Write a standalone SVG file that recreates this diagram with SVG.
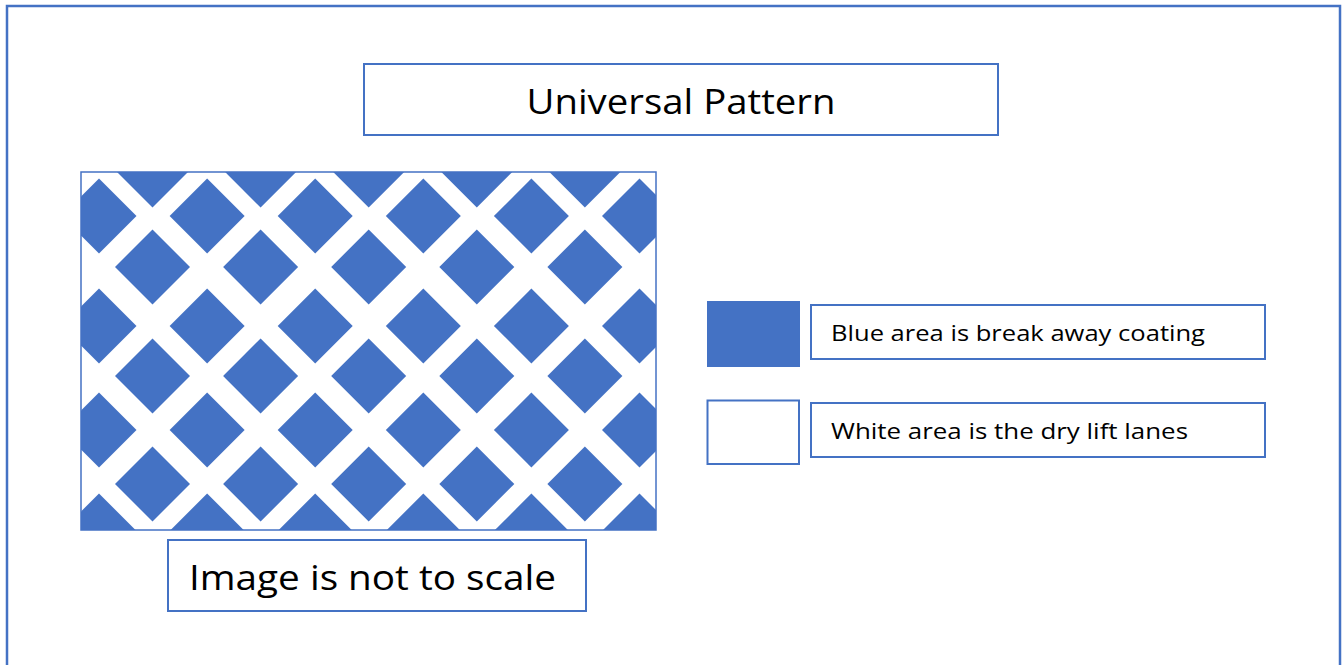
<svg xmlns="http://www.w3.org/2000/svg" xmlns:xlink="http://www.w3.org/1999/xlink" width="1343" height="665" viewBox="0 0 1343 665">
<style>
.box{fill:#ffffff;stroke:#4472c4;stroke-width:2}
.txt{font-family:"Open Sans","Noto Sans","Liberation Sans",sans-serif;fill:#000000}
.dia{fill:#4472c4}
</style>
<defs>
<polygon id="d" class="dia" points="0,-37.5 37.5,0 0,37.5 -37.5,0"/>
<clipPath id="pc"><rect x="81" y="172" width="575" height="358"/></clipPath>
</defs>
<rect x="0" y="0" width="1343" height="665" fill="#ffffff"/>
<rect id="frame" x="7" y="6" width="1333" height="670" fill="none" stroke="#4472c4" stroke-width="2.5"/>
<g id="title">
<rect class="box" x="364" y="64" width="634" height="71"/>
<text class="txt" x="681" y="114" font-size="35" text-anchor="middle" textLength="309" lengthAdjust="spacingAndGlyphs">Universal Pattern</text>
</g>
<g id="pattern">
<rect x="81" y="172" width="575" height="358" fill="#ffffff"/>
<g clip-path="url(#pc)">
<!-- row 0 (even) y=170 -->
<use xlink:href="#d" x="152.5" y="170"/><use xlink:href="#d" x="260.6" y="170"/><use xlink:href="#d" x="368.7" y="170"/><use xlink:href="#d" x="476.8" y="170"/><use xlink:href="#d" x="584.9" y="170"/>
<!-- row 1 (odd) y=216 -->
<use xlink:href="#d" x="99" y="216"/><use xlink:href="#d" x="207.1" y="216"/><use xlink:href="#d" x="315.2" y="216"/><use xlink:href="#d" x="423.3" y="216"/><use xlink:href="#d" x="531.4" y="216"/><use xlink:href="#d" x="639.5" y="216"/>
<!-- row 2 y=267 -->
<use xlink:href="#d" x="152.5" y="267"/><use xlink:href="#d" x="260.6" y="267"/><use xlink:href="#d" x="368.7" y="267"/><use xlink:href="#d" x="476.8" y="267"/><use xlink:href="#d" x="584.9" y="267"/>
<!-- row 3 y=326 -->
<use xlink:href="#d" x="99" y="326"/><use xlink:href="#d" x="207.1" y="326"/><use xlink:href="#d" x="315.2" y="326"/><use xlink:href="#d" x="423.3" y="326"/><use xlink:href="#d" x="531.4" y="326"/><use xlink:href="#d" x="639.5" y="326"/>
<!-- row 4 y=376 -->
<use xlink:href="#d" x="152.5" y="376"/><use xlink:href="#d" x="260.6" y="376"/><use xlink:href="#d" x="368.7" y="376"/><use xlink:href="#d" x="476.8" y="376"/><use xlink:href="#d" x="584.9" y="376"/>
<!-- row 5 y=430 -->
<use xlink:href="#d" x="99" y="430"/><use xlink:href="#d" x="207.1" y="430"/><use xlink:href="#d" x="315.2" y="430"/><use xlink:href="#d" x="423.3" y="430"/><use xlink:href="#d" x="531.4" y="430"/><use xlink:href="#d" x="639.5" y="430"/>
<!-- row 6 y=484 -->
<use xlink:href="#d" x="152.5" y="484"/><use xlink:href="#d" x="260.6" y="484"/><use xlink:href="#d" x="368.7" y="484"/><use xlink:href="#d" x="476.8" y="484"/><use xlink:href="#d" x="584.9" y="484"/>
<!-- row 7 y=531 -->
<use xlink:href="#d" x="99" y="531"/><use xlink:href="#d" x="207.1" y="531"/><use xlink:href="#d" x="315.2" y="531"/><use xlink:href="#d" x="423.3" y="531"/><use xlink:href="#d" x="531.4" y="531"/><use xlink:href="#d" x="639.5" y="531"/>
</g>
<rect x="81" y="172" width="575" height="358" fill="none" stroke="#4472c4" stroke-width="1.5"/>
</g>
<g id="note">
<rect class="box" x="168" y="540" width="418" height="71"/>
<text class="txt" x="189" y="590" font-size="35" textLength="367" lengthAdjust="spacingAndGlyphs">Image is not to scale</text>
</g>
<g id="legend-blue">
<rect x="707" y="301" width="93" height="66" fill="#4472c4"/>
</g>
<g id="legend-blue-label">
<rect class="box" x="811" y="305" width="454" height="54"/>
<text class="txt" x="831" y="341" font-size="21" textLength="374" lengthAdjust="spacingAndGlyphs">Blue area is break away coating</text>
</g>
<g id="legend-white">
<rect class="box" x="707.5" y="400.5" width="91.5" height="63.5"/>
</g>
<g id="legend-white-label">
<rect class="box" x="811" y="403" width="454" height="54"/>
<text class="txt" x="831" y="439" font-size="21" textLength="357" lengthAdjust="spacingAndGlyphs">White area is the dry lift lanes</text>
</g>
<g id="connectors"/>
</svg>
